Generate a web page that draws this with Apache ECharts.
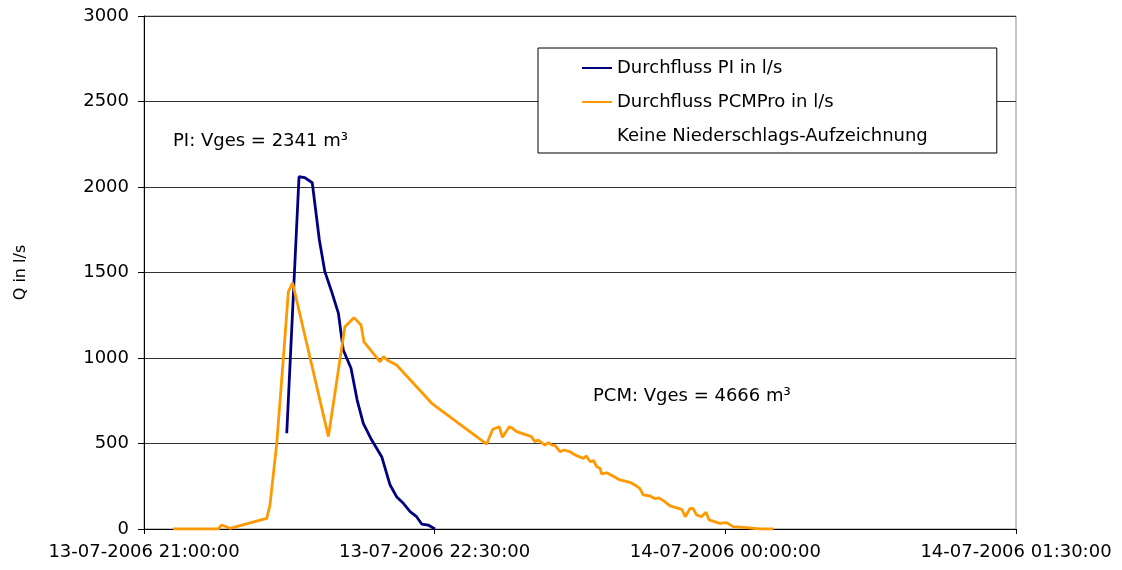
<!DOCTYPE html>
<html>
<head>
<meta charset="utf-8">
<script src="https://cdn.jsdelivr.net/npm/echarts@6/dist/echarts.min.js"></script>
<style>html,body{margin:0;padding:0;background:#fff}#c{width:1122px;height:570px}</style>
</head>
<body>
<div id="c"></div>
<script>
// Time in minutes after 13-07-2006 21:00:00
const xTickLabels = ['13-07-2006 21:00:00', '13-07-2006 22:30:00', '14-07-2006 00:00:00', '14-07-2006 01:30:00'];
const yTicks = [0, 500, 1000, 1500, 2000, 2500, 3000];

const piTimes = [44.2, 48, 49.8, 52.1, 54.3, 56, 58.1, 60.2, 61.7, 64.1, 66, 67.9, 70.5, 73.6, 76.2, 78.2, 80.3, 82.4, 84.4, 86, 88, 90.1];
const piValues = [560, 2060, 2055, 2025, 1690, 1505, 1388, 1261, 1047, 940, 754, 618, 520, 423, 257, 189, 150, 101, 72, 29, 23, 0];

const pcmTimes = [9, 23, 24, 26.6, 38, 39, 41.1, 43.1, 44.7, 46, 57.1, 62.2, 65, 67.2, 68.1, 73.1, 74.1, 75.5, 78.2, 89.1,
  106.1, 108, 110, 111, 113.1, 114, 115.4, 120, 121, 122.1, 124.1, 125.2, 126.3, 127.3, 128.8, 130, 131.9, 133.5, 136, 137,
  138.1, 139.2, 140.2, 141.2, 141.7, 143.3, 147.4, 150.5, 152.5, 153.5, 154.6, 156.7, 158.3, 159.4, 160.8, 162.9, 165.5, 166.5,
  167.6, 169.1, 170, 171.1, 172.6, 174, 175, 178.3, 180.4, 182.4, 186.6, 190.7, 194.9];
const pcmValues = [0, 0, 23, 4, 62, 140, 501, 988, 1388, 1440, 540, 1183, 1236, 1193, 1095, 978, 1008, 985, 959, 735,
  497, 583, 598, 536, 598, 590, 569, 540, 511, 520, 491, 505, 491, 487, 452, 462, 452, 433, 413, 427,
  394, 400, 364, 355, 322, 329, 287, 273, 251, 238, 199, 193, 177, 182, 166, 135, 121, 115,
  72, 121, 121, 82, 72, 98, 53, 33, 37, 14, 8, 0, 0];

const seriesNames = ['Durchfluss PI in l/s', 'Durchfluss PCMPro in l/s', 'Keine Niederschlags-Aufzeichnung'];
const annotations = ['PI: Vges = 2341 m³', 'PCM: Vges = 4666 m³'];

const FONT = 'DejaVu Sans';
const chart = echarts.init(document.getElementById('c'), null, {renderer: 'canvas'});
const zip = (a, b) => a.map((t, i) => [t, b[i]]);

chart.setOption({
  animation: false,
  backgroundColor: '#fff',
  grid: {left: 144, right: 106, top: 16, bottom: 41, show: true, borderColor: '#8a8a8a', borderWidth: 1, backgroundColor: 'transparent'},
  xAxis: {
    type: 'value', min: 0, max: 270, interval: 90,
    axisLine: {show: true, lineStyle: {color: '#000', width: 1}},
    axisTick: {show: true, length: 5, lineStyle: {color: '#000'}},
    splitLine: {show: false},
    axisLabel: {
      margin: 14, color: '#000', fontFamily: FONT, fontSize: 18,
      formatter: v => xTickLabels[Math.round(v / 90)] || ''
    }
  },
  yAxis: {
    type: 'value', min: yTicks[0], max: yTicks[yTicks.length - 1], interval: 500,
    name: 'Q in l/s', nameLocation: 'middle', nameGap: 115, nameRotate: 90,
    nameTextStyle: {color: '#000', fontFamily: FONT, fontSize: 16},
    axisLine: {show: true, lineStyle: {color: '#000', width: 1}},
    axisTick: {show: true, length: 6, lineStyle: {color: '#000'}},
    splitLine: {show: true, lineStyle: {color: '#333', width: 1}},
    axisLabel: {margin: 15, color: '#000', fontFamily: FONT, fontSize: 18, formatter: v => String(v)}
  },
  legend: {
    orient: 'vertical', left: 538, top: 48,
    padding: [11, 69, 8, 44], itemGap: 16, itemWidth: 30, itemHeight: 2, icon: 'rect',
    borderColor: '#000', borderWidth: 1, backgroundColor: '#fff',
    selectedMode: false,
    textStyle: {color: '#000', fontFamily: FONT, fontSize: 18},
    data: seriesNames
  },
  graphic: [
    {type: 'text', left: 173, top: 132, style: {text: annotations[0], fill: '#000', font: '18px "DejaVu Sans"'}},
    {type: 'text', left: 593, top: 387, style: {text: annotations[1], fill: '#000', font: '18px "DejaVu Sans"'}}
  ],
  series: [
    {name: seriesNames[0], type: 'line', data: zip(piTimes, piValues), showSymbol: false, symbol: 'none',
     color: '#000080', lineStyle: {width: 2.8, color: '#000080'}},
    {name: seriesNames[1], type: 'line', data: zip(pcmTimes, pcmValues), showSymbol: false, symbol: 'none',
     color: '#ff9900', lineStyle: {width: 2.8, color: '#ff9900'}},
    {name: seriesNames[2], type: 'line', data: [], showSymbol: false, symbol: 'none',
     color: 'rgba(0,0,0,0)', lineStyle: {width: 0, color: 'rgba(0,0,0,0)'}}
  ]
});
</script>
</body>
</html>
